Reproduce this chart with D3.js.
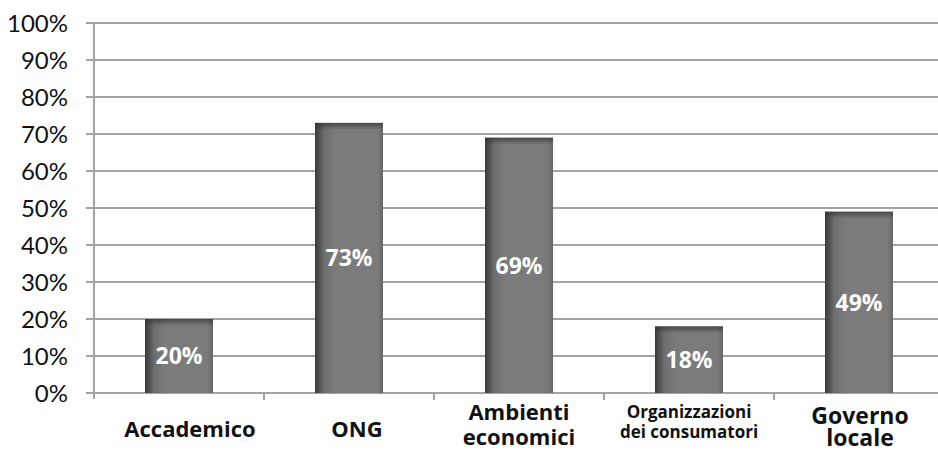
<!DOCTYPE html>
<html>
<head>
<meta charset="utf-8">
<script src="https://cdn.jsdelivr.net/npm/d3@7/dist/d3.min.js"></script>
<style>
  html, body { margin: 0; padding: 0; background: #fff; }
  svg { display: block; }
</style>
</head>
<body>
<svg id="chart" width="938" height="453"></svg>
<script>
// Share of respondents by stakeholder group
const categories = [
  ["Accademico"],
  ["ONG"],
  ["Ambienti", "economici"],
  ["Organizzazioni", "dei consumatori"],
  ["Governo", "locale"]
];
const values = [20, 73, 69, 18, 49];
const valueLabels = ["20%", "73%", "69%", "18%", "49%"];
const yTicks = [0, 10, 20, 30, 40, 50, 60, 70, 80, 90, 100];
const yTickLabels = ["0%", "10%", "20%", "30%", "40%", "50%", "60%", "70%", "80%", "90%", "100%"];

// Per-label typography and placement for the category axis
const labelStyle = [
  { size: 22, dx: 11, y0: 437, lh: 0 },
  { size: 22, dx: 8, y0: 437, lh: 0 },
  { size: 22, dx: 0, y0: 420, lh: 25 },
  { size: 17, dx: 0, y0: 418, lh: 20 },
  { size: 23, dx: 1, y0: 424, lh: 22 }
];

const svg = d3.select("#chart");
const W = 938, H = 453;
const margin = { left: 94, right: -6, top: 23, bottom: 60 };
const plotW = W - margin.left - margin.right;
const plotH = H - margin.top - margin.bottom;

const x = d3.scaleBand()
  .domain(d3.range(categories.length))
  .range([margin.left, margin.left + plotW])
  .paddingInner(0.6).paddingOuter(0.3);

const y = d3.scaleLinear().domain([0, 100]).range([margin.top + plotH, margin.top]);

// Bar fill: dark inner shadow on the left, lighter body
const defs = svg.append("defs");
const gh = defs.append("linearGradient").attr("id", "barH").attr("x1", 0).attr("x2", 1).attr("y1", 0).attr("y2", 0);
gh.append("stop").attr("offset", "0%").attr("stop-color", "#3a3a3a");
gh.append("stop").attr("offset", "14%").attr("stop-color", "#6e6e6e");
gh.append("stop").attr("offset", "30%").attr("stop-color", "#7b7b7b");
gh.append("stop").attr("offset", "92%").attr("stop-color", "#7b7b7b");
gh.append("stop").attr("offset", "100%").attr("stop-color", "#666");
const gv = defs.append("linearGradient").attr("id", "barTop").attr("x1", 0).attr("x2", 0).attr("y1", 0).attr("y2", 1);
gv.append("stop").attr("offset", "0%").attr("stop-color", "#333").attr("stop-opacity", 0.7);
gv.append("stop").attr("offset", "100%").attr("stop-color", "#333").attr("stop-opacity", 0);

// Gridlines with left tick stubs
svg.append("g").selectAll("line").data(yTicks).join("line")
  .attr("x1", margin.left - 8).attr("x2", W)
  .attr("y1", d => y(d)).attr("y2", d => y(d))
  .attr("stroke", "#a3a3a3").attr("stroke-width", 2);

// Y tick labels
svg.append("g").selectAll("text").data(yTicks).join("text")
  .attr("x", 68).attr("y", d => y(d))
  .attr("dy", "0.36em")
  .attr("text-anchor", "end")
  .attr("font-family", "Lato, 'Open Sans', sans-serif")
  .attr("font-size", 24)
  .attr("fill", "#111")
  .text((d, i) => yTickLabels[i]);

// Y axis line
svg.append("line")
  .attr("x1", margin.left).attr("x2", margin.left)
  .attr("y1", y(100)).attr("y2", y(0) + 6)
  .attr("stroke", "#a3a3a3").attr("stroke-width", 2);

// Category boundary ticks on the x axis
const bounds = d3.range(categories.length + 1).map(i => margin.left + i * plotW / categories.length);
svg.append("g").selectAll("line").data(bounds.slice(1)).join("line")
  .attr("x1", d => d).attr("x2", d => d)
  .attr("y1", y(0)).attr("y2", y(0) + 7)
  .attr("stroke", "#a3a3a3").attr("stroke-width", 2);

// Bars
const bars = svg.append("g").selectAll("g").data(values).join("g");
bars.append("rect")
  .attr("x", (d, i) => x(i)).attr("width", x.bandwidth())
  .attr("y", d => y(d)).attr("height", d => y(0) - y(d))
  .attr("fill", "url(#barH)");
bars.append("rect")
  .attr("x", (d, i) => x(i)).attr("width", x.bandwidth())
  .attr("y", d => y(d)).attr("height", 7)
  .attr("fill", "url(#barTop)");

// Value labels in the middle of each bar
bars.append("text")
  .attr("x", (d, i) => x(i) + x.bandwidth() / 2)
  .attr("y", d => (y(d) + y(0)) / 2)
  .attr("dy", "0.36em")
  .attr("text-anchor", "middle")
  .attr("font-family", "'Open Sans', Lato, sans-serif")
  .attr("font-weight", "bold")
  .attr("font-size", 23)
  .attr("fill", "#fff")
  .text((d, i) => valueLabels[i]);

// Category labels
const catG = svg.append("g").selectAll("text").data(categories).join("text")
  .attr("text-anchor", "middle")
  .attr("font-family", "'Open Sans', Lato, sans-serif")
  .attr("font-weight", "bold")
  .attr("font-size", (d, i) => labelStyle[i].size)
  .attr("fill", "#111");
catG.each(function(lines, i) {
  const s = labelStyle[i];
  const cx = (bounds[i] + bounds[i + 1]) / 2 + s.dx;
  d3.select(this).selectAll("tspan").data(lines).join("tspan")
    .attr("x", cx)
    .attr("y", (l, j) => s.y0 + j * s.lh)
    .text(l => l);
});
</script>
</body>
</html>
